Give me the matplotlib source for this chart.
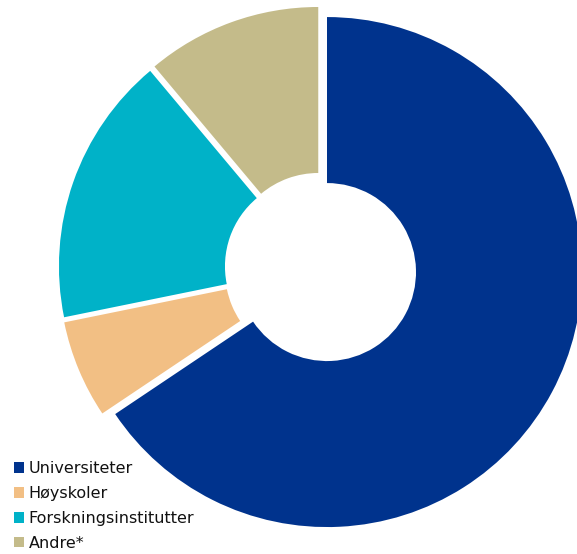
import matplotlib.pyplot as plt

# share of funding per sector (percent)
labels = ["Universiteter", "Høyskoler", "Forskningsinstitutter", "Andre*"]
shares = [65.6, 6.2, 17.1, 11.1]
colors = ["#00338D", "#F2BF84", "#00B2C8", "#C4BB8A"]

W, H = 577, 554
R_PX = 255.0          # outer radius in pixels
CX, CY = 320.7, 268.7  # pie centre in pixels (from top left)

fig = plt.figure(figsize=(W / 100, H / 100), dpi=100)
ax = fig.add_axes([0, 0, 1, 1])

wedges, _ = ax.pie(
    shares,
    colors=colors,
    startangle=90,
    counterclock=False,
    explode=[0.028] * len(shares),
    radius=1.0,
    wedgeprops=dict(width=0.651, linewidth=0),
)

# one data unit = R_PX pixels in both directions
ax.set_xlim(-CX / R_PX, (W - CX) / R_PX)
ax.set_ylim(-(H - CY) / R_PX, CY / R_PX)
ax.set_aspect("auto")
ax.axis("off")

leg = ax.legend(
    wedges, labels,
    loc="lower left",
    bbox_to_anchor=(0.013, -0.006),
    bbox_transform=fig.transFigure,
    frameon=False,
    fontsize=11.5,
    handlelength=0.62,
    handleheight=0.62,
    handletextpad=0.3,
    labelspacing=0.62,
    borderaxespad=0.0,
)
for t in leg.get_texts():
    t.set_color("#111111")

fig.savefig("out.png", dpi=100)
